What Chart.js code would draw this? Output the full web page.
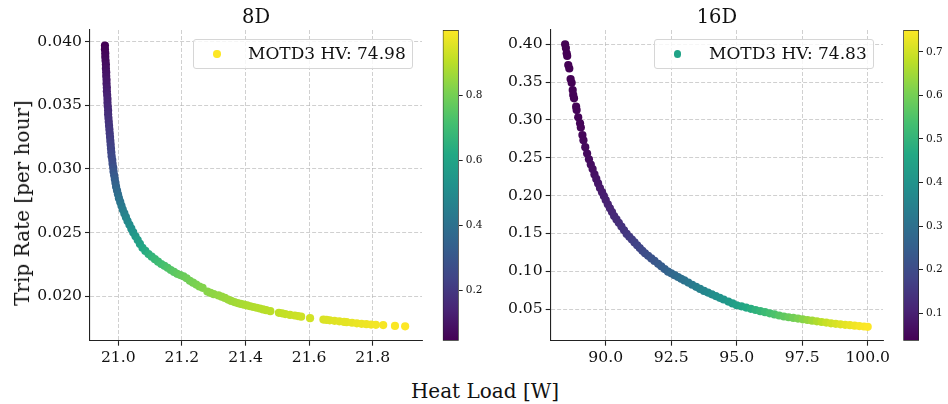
<!DOCTYPE html>
<html><head><meta charset="utf-8">
<script src="https://cdn.jsdelivr.net/npm/chart.js@4.4.1/dist/chart.umd.min.js"></script>
<style>
html,body{margin:0;padding:0;background:#fff;}
#fig{position:relative;width:948px;height:404px;overflow:hidden;font-family:"DejaVu Serif",serif;color:#111;}
canvas{position:absolute;top:0;}
.lbl{position:absolute;white-space:nowrap;font-size:20px;line-height:20px;}
.leg{position:absolute;top:39px;width:220px;height:30px;box-sizing:border-box;border:1px solid #d6d6d6;border-radius:3px;background:rgba(255,255,255,0.8);}
.leg .mk{position:absolute;width:7.3px;height:7.3px;border-radius:50%;top:10.35px;}
.leg .tx{position:absolute;left:54px;top:4.8px;font-size:17px;line-height:17px;white-space:nowrap;}
</style></head><body>
<div id="fig">
<canvas id="c8" width="432" height="372" style="left:0px"></canvas>
<canvas id="cb8" width="44" height="372" style="left:440px"></canvas>
<canvas id="c16" width="430" height="372" style="left:470px"></canvas>
<canvas id="cb16" width="44" height="372" style="left:901px"></canvas>
<div class="leg" style="left:193px"><span class="mk" style="left:19.35px;background:#fde725"></span><span class="tx">MOTD3 HV: 74.98</span></div>
<div class="leg" style="left:654px"><span class="mk" style="left:19.05px;background:#20a387"></span><span class="tx">MOTD3 HV: 74.83</span></div>
<div class="lbl" style="left:485px;top:381.4px;transform:translateX(-50%)">Heat Load [W]</div>
<div class="lbl" style="left:21.6px;top:203px;transform:translate(-50%,-50%) rotate(-90deg)">Trip Rate [per hour]</div>
</div>
<script>
// ---------- DATA ----------
const titles = ['8D', '16D'];

// 8D Pareto front
const heat8 = [20.958,20.958,20.959,20.959,20.960,20.961,20.961,20.962,20.962,20.963,20.963,20.964,20.964,20.965,20.966,20.966,20.967,20.968,20.968,20.969,20.970,20.971,20.972,20.973,20.974,20.975,20.976,20.977,20.978,20.979,20.981,20.982,20.984,20.985,20.987,20.989,20.991,20.993,20.996,20.999,21.002,21.006,21.010,21.014,21.019,21.024,21.029,21.035,21.041,21.047,21.054,21.061,21.068,21.076,
21.085,21.095,21.105,21.115,21.125,21.135,21.145,21.155,21.165,21.175,21.185,21.195,21.205,21.215,21.225,21.235,21.245,21.255,21.265,21.280,21.290,21.300,21.315,21.325,21.335,21.345,21.355,21.365,21.375,21.385,21.395,21.405,21.415,21.425,21.435,21.445,21.455,21.465,21.478,21.505,21.515,21.525,21.540,21.555,21.565,21.575,21.603,21.645,21.655,21.665,21.680,21.695,21.710,21.718,21.735,21.750,21.765,21.780,21.795,21.810,21.833,21.870,21.902];
const trip8 = [0.0397,0.0394,0.0391,0.0388,0.0385,0.0382,0.0379,0.0376,0.0373,0.0370,0.0367,0.0364,0.0361,0.0358,0.0355,0.0352,0.0349,0.0346,0.0343,0.0340,0.0337,0.0334,0.0331,0.0328,0.0325,0.0322,0.0319,0.0316,0.0313,0.0310,0.0307,0.0304,0.0301,0.0298,0.0295,0.0292,0.0289,0.0286,0.0283,0.0280,0.0277,0.0274,0.0271,0.0268,0.0265,0.0262,0.0259,0.0256,0.0253,0.0250,0.0247,0.0244,0.0241,0.0238,
0.02355,0.02330,0.02310,0.02290,0.02270,0.02252,0.02238,0.02222,0.02205,0.02190,0.02175,0.02165,0.02155,0.02140,0.02120,0.02105,0.02090,0.02075,0.02065,0.02035,0.02025,0.02015,0.02005,0.01995,0.01985,0.01972,0.01962,0.01953,0.01945,0.01938,0.01932,0.01926,0.01920,0.01914,0.01908,0.01902,0.01895,0.01889,0.01881,0.01868,0.01864,0.01858,0.01852,0.01847,0.01843,0.01838,0.01826,0.01815,0.01812,0.01809,0.01805,0.01801,0.01797,0.01795,0.01790,0.01786,0.01782,0.01779,0.01776,0.01774,0.01772,0.01765,0.01762];
const val8 = [0.046,0.053,0.060,0.066,0.073,0.080,0.087,0.094,0.101,0.108,0.115,0.122,0.129,0.136,0.142,0.149,0.156,0.163,0.170,0.177,0.184,0.191,0.198,0.205,0.213,0.221,0.229,0.237,0.245,0.253,0.261,0.270,0.283,0.297,0.311,0.325,0.340,0.355,0.370,0.385,0.400,0.414,0.428,0.442,0.460,0.475,0.490,0.505,0.520,0.535,0.553,0.571,0.590,0.610,
0.628,0.647,0.665,0.680,0.693,0.706,0.718,0.730,0.741,0.752,0.762,0.771,0.780,0.788,0.795,0.802,0.808,0.814,0.820,0.827,0.832,0.837,0.843,0.848,0.852,0.856,0.860,0.864,0.868,0.872,0.876,0.880,0.883,0.886,0.889,0.892,0.895,0.898,0.901,0.908,0.911,0.914,0.918,0.922,0.925,0.928,0.935,0.946,0.949,0.951,0.955,0.958,0.961,0.963,0.967,0.971,0.974,0.977,0.980,0.984,0.989,0.995,1.000];

// 16D Pareto front
const heat16 = [88.45,88.48,88.51,88.53,88.57,88.61,88.66,88.70,88.74,88.76,88.79,88.87,88.89,88.95,89.02,89.05,89.11,
89.15,89.22,89.29,89.36,89.43,89.50,89.57,89.64,89.71,89.78,89.86,89.93,90.00,90.08,90.16,90.24,90.32,90.41,90.50,90.60,90.70,90.80,90.90,91.00,91.10,91.20,91.30,91.40,91.50,91.62,91.74,91.86,92.00,92.12,92.25,92.38,92.50,92.63,92.76,92.88,93.00,93.15,93.30,93.45,93.60,93.75,93.90,94.05,94.20,94.35,94.50,94.68,94.84,95.00,95.18,95.36,95.54,95.72,95.90,96.08,96.26,96.44,96.62,96.80,96.98,97.16,97.34,97.52,97.70,97.88,98.06,98.24,98.42,98.60,98.78,98.96,99.14,99.32,99.50,99.68,99.86,100.0];
const trip16 = [0.400,0.395,0.388,0.3845,0.3726,0.368,0.354,0.349,0.3395,0.333,0.3286,0.3175,0.313,0.3034,0.2955,0.290,0.280,
0.273,0.264,0.2555,0.248,0.241,0.235,0.228,0.222,0.216,0.210,0.2045,0.1993,0.1940,0.1885,0.1832,0.1782,0.1730,0.1685,0.1640,0.1590,0.1540,0.1493,0.1455,0.1418,0.1381,0.1343,0.1306,0.1269,0.1236,0.1203,0.1169,0.1136,0.1097,0.1064,0.1028,0.0994,0.0972,0.0947,0.0923,0.0900,0.0878,0.0850,0.0821,0.0793,0.0765,0.0739,0.0717,0.0694,0.0671,0.0648,0.0626,0.0598,0.0574,0.0550,0.0535,0.0519,0.0503,0.0487,0.0472,0.0458,0.0443,0.0429,0.0414,0.0401,0.0391,0.0382,0.0373,0.0364,0.0355,0.0346,0.0337,0.0328,0.032,0.0311,0.0304,0.0297,0.0291,0.0286,0.028,0.0275,0.0269,0.0265];
const val16 = [0.037,0.037,0.038,0.038,0.039,0.039,0.040,0.040,0.041,0.041,0.042,0.043,0.043,0.044,0.045,0.046,0.048,
0.050,0.053,0.056,0.059,0.062,0.065,0.070,0.075,0.080,0.085,0.090,0.095,0.100,0.105,0.110,0.114,0.119,0.124,0.130,0.137,0.144,0.151,0.158,0.165,0.172,0.179,0.186,0.193,0.200,0.208,0.217,0.225,0.235,0.243,0.252,0.261,0.270,0.279,0.288,0.297,0.305,0.316,0.326,0.337,0.347,0.358,0.368,0.378,0.387,0.396,0.405,0.418,0.429,0.440,0.453,0.465,0.478,0.492,0.506,0.520,0.533,0.546,0.559,0.572,0.584,0.596,0.608,0.621,0.635,0.649,0.664,0.677,0.690,0.699,0.707,0.715,0.722,0.729,0.736,0.742,0.747,0.750];

// Tick labels
const xTicks8 = [21.0, 21.2, 21.4, 21.6, 21.8];
const yTicks8 = [0.020, 0.025, 0.030, 0.035, 0.040];
const cbTicks8 = [0.2, 0.4, 0.6, 0.8];
const xTicks16 = [90.0, 92.5, 95.0, 97.5, 100.0];
const yTicks16 = [0.05, 0.10, 0.15, 0.20, 0.25, 0.30, 0.35, 0.40];
const cbTicks16 = [0.1, 0.2, 0.3, 0.4, 0.5, 0.6, 0.7];

// ---------- STYLE ----------
const FONT = '"DejaVu Serif", serif';
const VIR = ['#440154','#482475','#414487','#355f8d','#2a788e','#21918c','#22a884','#44bf70','#7ad151','#bddf26','#fde725'];
function hex(h){return [parseInt(h.slice(1,3),16),parseInt(h.slice(3,5),16),parseInt(h.slice(5,7),16)];}
const VIRRGB = VIR.map(hex);
function viridis(t){
  t = Math.max(0, Math.min(1, t));
  const p = t * (VIR.length - 1);
  const i = Math.min(Math.floor(p), VIR.length - 2);
  const f = p - i;
  const a = VIRRGB[i], b = VIRRGB[i+1];
  return 'rgb(' + a.map((v,k)=>Math.round(v + (b[k]-v)*f)).join(',') + ')';
}

function mainChart(id, xs, ys, cs, o){
  const vmin = Math.min(...cs), vmax = Math.max(...cs);
  const tickFont = {family: FONT, size: 15.6};
  return new Chart(document.getElementById(id), {
    type: 'scatter',
    data: {datasets: [{
      data: xs.map((x,i)=>({x:x, y:ys[i]})),
      pointRadius: 4.1, pointHoverRadius: 4.1, pointBorderWidth: 0,
      pointBackgroundColor: cs.map(c=>viridis((c-vmin)/(vmax-vmin)))
    }]},
    options: {
      responsive: false, animation: false, devicePixelRatio: 1,
      layout: {padding: {left: 0, right: o.padR, top: 0, bottom: 0}},
      plugins: {
        legend: {display: false}, tooltip: {enabled: false},
        title: {display: true, text: o.title, fullSize: false, color: '#111',
          font: {family: FONT, size: 19.5, weight: 'normal', lineHeight: 1.2},
          padding: {top: 6, bottom: 0.6}}
      },
      scales: {
        x: {type: 'linear', min: o.xMin, max: o.xMax,
          afterBuildTicks: s => { s.ticks = o.xT.map(v=>({value:v})); },
          afterFit: s => { s.height = 31.3; },
          ticks: {font: tickFont, color: '#111', padding: 3, maxRotation: 0, autoSkip: false,
            callback: v => Number(v).toFixed(o.xDec)},
          grid: {color: 'rgba(176,176,176,0.75)', lineWidth: 0.8, drawTicks: true, tickLength: 5,
            tickColor: '#222', tickWidth: 1.1},
          border: {display: true, color: '#222', width: 1.1, dash: [4,2]}
        },
        y: {type: 'linear', min: o.yMin, max: o.yMax,
          afterBuildTicks: s => { s.ticks = o.yT.map(v=>({value:v})); },
          afterFit: s => { s.width = o.yW; },
          ticks: {font: tickFont, color: '#111', padding: 3, autoSkip: false,
            callback: v => Number(v).toFixed(o.yDec)},
          grid: {color: 'rgba(176,176,176,0.75)', lineWidth: 0.8, drawTicks: true, tickLength: 5,
            tickColor: '#222', tickWidth: 1.1},
          border: {display: true, color: '#222', width: 1.1, dash: [4,2]}
        }
      }
    }
  });
}

function colorBar(id, cs, ticks, padL, barW, canvasW){
  const vmin = Math.min(...cs), vmax = Math.max(...cs);
  return new Chart(document.getElementById(id), {
    type: 'bar',
    data: {labels: [''], datasets: [{
      data: [[vmin, vmax]],
      backgroundColor: ctx => {
        const ca = ctx.chart.chartArea;
        if (!ca) return '#888';
        const g = ctx.chart.ctx.createLinearGradient(0, ca.bottom, 0, ca.top);
        VIR.forEach((c,i)=>g.addColorStop(i/(VIR.length-1), c));
        return g;
      },
      borderColor: '#222', borderWidth: 1, borderSkipped: false,
      barPercentage: 1, categoryPercentage: 1
    }]},
    options: {
      responsive: false, animation: false, devicePixelRatio: 1,
      layout: {padding: {left: padL, right: 0, top: 30, bottom: 31.3}},
      plugins: {legend: {display: false}, tooltip: {enabled: false}, title: {display: false}},
      scales: {
        x: {display: false},
        y: {type: 'linear', position: 'right', min: vmin, max: vmax,
          afterBuildTicks: s => { s.ticks = ticks.map(v=>({value:v})); },
          afterFit: s => { s.width = canvasW - padL - barW; },
          ticks: {font: {family: FONT, size: 10.5}, color: '#111', padding: 3, autoSkip: false,
            callback: v => Number(v).toFixed(1)},
          grid: {drawOnChartArea: false, drawTicks: true, tickLength: 4, tickColor: '#222', tickWidth: 1},
          border: {display: false}
        }
      }
    }
  });
}

mainChart('c8', heat8, trip8, val8, {title: titles[0], xT: xTicks8, yT: yTicks8, xDec: 1, yDec: 3,
  xMin: 20.911, xMax: 21.955, yMin: 0.01649, yMax: 0.04092, yW: 90, padR: 10});
mainChart('c16', heat16, trip16, val16, {title: titles[1], xT: xTicks16, yT: yTicks16, xDec: 1, yDec: 2,
  xMin: 87.90, xMax: 100.584, yMin: 0.0081, yMax: 0.4189, yW: 80.7, padR: 17});
colorBar('cb8', val8, cbTicks8, 2.7, 16, 44);
colorBar('cb16', val16, cbTicks16, 2.3, 15.7, 44);
</script>
</body></html>
